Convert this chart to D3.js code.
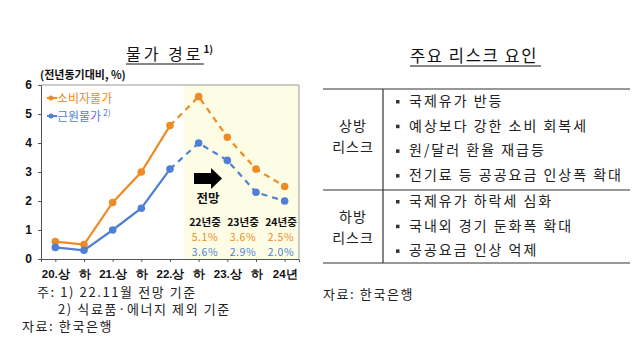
<!DOCTYPE html>
<html>
<head>
<meta charset="utf-8">
<script src="https://cdn.jsdelivr.net/npm/d3@7"></script>
<style>
  body { margin: 0; background: #fff; }
  svg { display: block; font-family: "Noto Sans CJK KR", "Noto Sans", sans-serif; }
</style>
</head>
<body>
<svg width="640" height="360"></svg>
<script>
// chart data
var categories = ['20.상', '하', '21.상', '하', '22.상', '하', '23.상', '하', '24년'];
var cpi = [0.6, 0.5, 1.95, 3.0, 4.6, 5.6, 4.2, 3.1, 2.5];
var core = [0.4, 0.3, 1.0, 1.75, 3.1, 4.0, 3.4, 2.3, 2.0];
var forecastStart = 4; // dashed from 22.상 onward
var yTicks = [0, 1, 2, 3, 4, 5, 6];
var forecastYears = ['22년중', '23년중', '24년중'];
var cpiForecast = ['5.1%', '3.6%', '2.5%'];
var coreForecast = ['3.6%', '2.9%', '2.0%'];
var upsideRisks = ['국제유가 반등', '예상보다 강한 소비 회복세', '원/달러 환율 재급등', '전기료 등 공공요금 인상폭 확대'];
var downsideRisks = ['국제유가 하락세 심화', '국내외 경기 둔화폭 확대', '공공요금 인상 억제'];

var orange = '#f08a24', blue = '#4f7fd6';
var svg = d3.select('svg');

// ---- left: chart ----
var m = {left: 41, right: 299, top: 85, bottom: 259};
var x = d3.scalePoint().domain(d3.range(categories.length)).range([m.left, m.right]).padding(0.5);
var y = d3.scaleLinear().domain([0, 6]).range([m.bottom, m.top]);
var step = x.step();

// forecast shading
svg.append('rect')
  .attr('x', x(forecastStart) + step / 2).attr('y', m.top)
  .attr('width', m.right - x(forecastStart) - step / 2).attr('height', m.bottom - m.top)
  .attr('fill', '#fdfde6');

// frame
svg.append('path')
  .attr('d', 'M' + m.left + ',' + m.top + 'H' + m.right + 'V' + m.bottom)
  .attr('fill', 'none').attr('stroke', '#999').attr('stroke-width', 1);

var yAxis = svg.append('g').attr('transform', 'translate(' + m.left + ',0)')
  .call(d3.axisLeft(y).tickValues(yTicks).tickSize(3).tickFormat(d3.format('d')));
yAxis.select('.domain').attr('stroke', '#555');
yAxis.selectAll('.tick line').attr('stroke', '#555');
yAxis.selectAll('text').attr('font-size', 12).attr('font-weight', 'bold').attr('fill', '#111')
  .attr('x', -9).attr('font-family', 'Liberation Sans, Arial, sans-serif');

var xAxis = svg.append('g').attr('transform', 'translate(0,' + m.bottom + ')')
  .call(d3.axisBottom(x).tickSize(3).tickFormat(function(i) { return categories[i]; }));
xAxis.select('.domain').attr('stroke', '#555');
xAxis.selectAll('.tick line').attr('stroke', '#555');
xAxis.selectAll('text').attr('font-size', 11.5).attr('font-weight', 'bold').attr('fill', '#111').attr('dy', '1.1em');

// title
var t1 = svg.append('text').attr('x', 126).attr('y', 60)
  .attr('font-size', 16).attr('fill', '#111').attr('letter-spacing', 3);
t1.append('tspan').text('물가 경로');
t1.append('tspan').text('1)').attr('font-size', 10).attr('dy', -7).attr('font-weight', 'bold').attr('letter-spacing', 0);
svg.append('line').attr('x1', 126).attr('x2', 204).attr('y1', 64).attr('y2', 64).attr('stroke', '#111');

svg.append('text').attr('x', 40).attr('y', 79).attr('font-size', 11).attr('font-weight', 'bold')
  .attr('fill', '#111').text('(전년동기대비, %)');

function drawSeries(vals, color) {
  var pts = vals.map(function(v, i) { return [x(i), y(v)]; });
  var line = d3.line();
  svg.append('path').attr('d', line(pts.slice(0, forecastStart + 1)))
    .attr('fill', 'none').attr('stroke', color).attr('stroke-width', 2.2);
  svg.append('path').attr('d', line(pts.slice(forecastStart)))
    .attr('fill', 'none').attr('stroke', color).attr('stroke-width', 2.2).attr('stroke-dasharray', '6,5');
  svg.selectAll(null).data(pts).enter().append('circle')
    .attr('cx', function(d) { return d[0]; }).attr('cy', function(d) { return d[1]; })
    .attr('r', 3.8).attr('fill', color);
}
drawSeries(cpi, orange);
drawSeries(core, blue);

// legend
[['소비자물가', orange, 98], ['근원물가', blue, 116]].forEach(function(l, k) {
  svg.append('line').attr('x1', 47).attr('x2', 57).attr('y1', l[2]).attr('y2', l[2])
    .attr('stroke', l[1]).attr('stroke-width', 2);
  svg.append('circle').attr('cx', 51).attr('cy', l[2]).attr('r', 2.5).attr('fill', l[1]);
  var t = svg.append('text').attr('x', 57).attr('y', l[2] + 4.5).attr('font-size', 12).attr('fill', l[1]);
  t.append('tspan').text(l[0]);
  if (k === 1) t.append('tspan').text(' 2)').attr('font-size', 8.5).attr('dy', -5);
});

// forecast arrow + text
svg.append('path').attr('d', 'M194,173 H211 V168 L222,178.5 L211,189 V184 H194 Z').attr('fill', '#000');
svg.append('text').attr('x', 208).attr('y', 203).attr('text-anchor', 'middle')
  .attr('font-size', 12.5).attr('font-weight', 'bold').attr('fill', '#111').text('전망');
var fx = [205, 243, 281];
forecastYears.forEach(function(yr, i) {
  svg.append('text').attr('x', fx[i]).attr('y', 226).attr('text-anchor', 'middle')
    .attr('font-size', 10.5).attr('font-weight', 'bold').attr('fill', '#111').text(yr);
  svg.append('text').attr('x', fx[i]).attr('y', 241).attr('text-anchor', 'middle')
    .attr('font-size', 10.5).attr('letter-spacing', 0.6).attr('fill', orange).text(cpiForecast[i]);
  svg.append('text').attr('x', fx[i]).attr('y', 256).attr('text-anchor', 'middle')
    .attr('font-size', 10.5).attr('letter-spacing', 0.6).attr('fill', blue).text(coreForecast[i]);
});

// notes
var noteStyle = function(s) { return s.attr('font-size', 13).attr('letter-spacing', 1.6).attr('fill', '#222'); };
noteStyle(svg.append('text').attr('x', 37).attr('y', 297).text('주: 1) 22.11월 전망 기준'));
noteStyle(svg.append('text').attr('x', 58).attr('y', 314).text('2) 식료품·에너지 제외 기준'));
noteStyle(svg.append('text').attr('x', 22).attr('y', 331).text('자료: 한국은행'));

// ---- right: risk table ----
svg.append('text').attr('x', 410).attr('y', 62)
  .attr('font-size', 16.5).attr('letter-spacing', 1.6).attr('fill', '#111').text('주요 리스크 요인');
svg.append('line').attr('x1', 410).attr('x2', 541).attr('y1', 66).attr('y2', 66).attr('stroke', '#111');

var tl = 323, tr = 630, divX = 383;
[89, 190, 263].forEach(function(yy) {
  svg.append('line').attr('x1', tl).attr('x2', tr).attr('y1', yy).attr('y2', yy)
    .attr('stroke', '#333').attr('stroke-width', 1.2);
});
svg.append('line').attr('x1', divX).attr('x2', divX).attr('y1', 89).attr('y2', 263)
  .attr('stroke', '#333').attr('stroke-width', 1.2);

function rowLabel(lines, cy) {
  lines.forEach(function(s, i) {
    svg.append('text').attr('x', 353).attr('y', cy + i * 21).attr('text-anchor', 'middle')
      .attr('font-size', 14).attr('letter-spacing', 1).attr('fill', '#222').text(s);
  });
}
rowLabel(['상방', '리스크'], 131);
rowLabel(['하방', '리스크'], 222);

function bullets(items, y0) {
  items.forEach(function(s, i) {
    var yy = y0 + i * 24.7;
    svg.append('rect').attr('x', 396).attr('y', yy - 6).attr('width', 3.5).attr('height', 3.5).attr('fill', '#333');
    svg.append('text').attr('x', 409).attr('y', yy).attr('font-size', 14).attr('letter-spacing', 2)
      .attr('fill', '#222').text(s);
  });
}
bullets(upsideRisks, 106);
bullets(downsideRisks, 206);

svg.append('text').attr('x', 323).attr('y', 299).attr('font-size', 13).attr('letter-spacing', 1.6)
  .attr('fill', '#222').text('자료: 한국은행');
</script>
</body>
</html>
